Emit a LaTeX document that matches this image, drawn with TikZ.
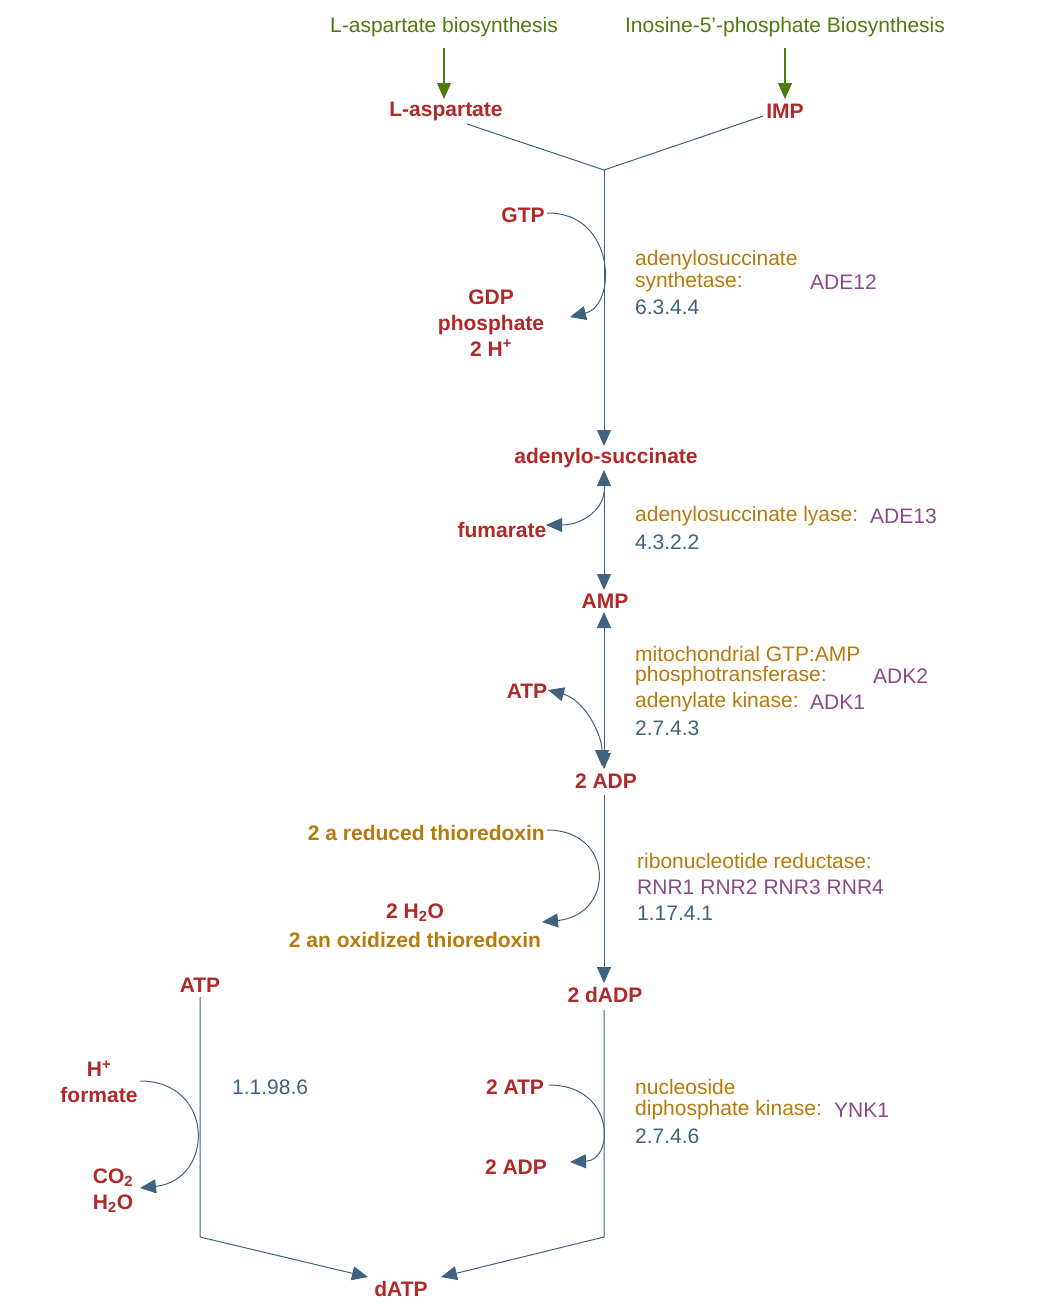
\documentclass[tikz,border=0pt]{standalone}
\usepackage{fontspec}
\setmainfont{Liberation Sans}
\usetikzlibrary{arrows.meta}
\definecolor{met}{HTML}{B02828}
\definecolor{grn}{HTML}{4F7A0E}
\definecolor{enz}{HTML}{B57A0A}
\definecolor{gen}{HTML}{8A4A8A}
\definecolor{ln}{HTML}{40627F}
\begin{document}
\begin{tikzpicture}[x=1pt,y=-1pt,
 m/.style={text=met,font=\fontsize{21}{26}\selectfont\bfseries,inner sep=1pt,align=center},
 mo/.style={m,text=enz},
 pw/.style={text=grn,font=\fontsize{21}{26}\selectfont,inner sep=1pt},
 ez/.style={text=enz,font=\fontsize{21}{26}\selectfont,anchor=west,inner sep=0pt},
 gn/.style={text=gen,font=\fontsize{21}{26}\selectfont,anchor=west,inner sep=0pt},
 ec/.style={text=ln,font=\fontsize{21}{26}\selectfont,anchor=west,inner sep=0pt},
 l/.style={draw=ln,line width=1pt},
 tip/.style={-{Triangle[length=16pt,width=14pt]}},
 btip/.style={{Triangle[length=16pt,width=14pt]}-{Triangle[length=16pt,width=14pt]}},
 g/.style={draw=grn,line width=1.1pt,-{Triangle[length=16pt,width=14pt]}}]
\useasboundingbox (0,0) rectangle (1038,1310);
% pathways
\node[pw] (pa) at (444,27) {L-aspartate biosynthesis};
\node[pw] (pi) at (785,27) {Inosine-5'-phosphate Biosynthesis};
\node[m] (asp) at (446,111) {L-aspartate};
\node[m] (imp) at (785,111) {IMP};
\draw[g] (444,48) -- (444,99);
\draw[g] (785,48) -- (785,99);
% step 1
\coordinate (j1) at (604,170);
\coordinate (a1) at (467,124);
\coordinate (b1) at (763,116);
\node[m] (ads) at (606,458) {adenylo-succinate};
\draw[l] (a1) -- (j1) -- (b1);
\draw[l,tip] (j1) -- (604,446);
\node[m] (gtp) at (523,215) {GTP};
\node[m] (gdp) at (491,323) {GDP\\phosphate\\2 H\textsuperscript{+}};
\draw[l,tip] (547,213) .. controls (615,212) and (618,305) .. (570,317);
\node[ez] at (635,260) {adenylosuccinate};
\node[ez] at (635,282) {synthetase:};
\node[gn] at (810,282) {ADE12};
\node[ec] at (635,307) {6.3.4.4};
% step 2
\node[m] (amp) at (605,601) {AMP};
\draw[l,btip] (604,470) -- (604,590);
\node[m] (fum) at (502,530) {fumarate};
\draw[l,tip] (604,492) .. controls (602,512) and (580,525) .. (546,525);
\node[ez] at (635,516) {adenylosuccinate lyase:};
\node[gn] at (870,516) {ADE13};
\node[ec] at (635,542) {4.3.2.2};
% step 3
\node[m] (adp) at (606,781) {2 ADP};
\draw[l,btip] (604,612) -- (604,769);
\node[m] (atp1) at (527,691) {ATP};
\draw[l,btip] (548,690) .. controls (585,700) and (602,735) .. (602,766);
\node[ez] at (635,654) {mitochondrial GTP:AMP};
\node[ez] at (635,676) {phosphotransferase:};
\node[gn] at (873,676) {ADK2};
\node[ez] at (635,702) {adenylate kinase:};
\node[gn] at (810,702) {ADK1};
\node[ec] at (635,728) {2.7.4.3};
% step 4
\node[m] (dadp) at (605,995) {2 dADP};
\draw[l,tip] (604,795) -- (604,983);
\node[mo,anchor=east] (rt) at (546,833) {2 a reduced thioredoxin};
\node[m] (h2o) at (415,913) {2 H\textsubscript{2}O};
\node[mo] (ot) at (415,940) {2 an oxidized thioredoxin};
\draw[l,tip] (547,830) .. controls (615,830) and (615,915) .. (542,922);
\node[ez] at (637,861) {ribonucleotide reductase:};
\node[gn] at (637,887) {RNR1\hspace{6pt}RNR2\hspace{6pt}RNR3\hspace{6pt}RNR4};
\node[ec] at (637,913) {1.17.4.1};
% step 5
\node[m] (datp) at (401,1289) {dATP};
\coordinate (c5) at (604,1237);
\draw[l,tip] (604,1010) -- (c5) -- (441,1277);
\node[m] (atp2) at (515,1087) {2 ATP};
\node[m] (adp2) at (516,1167) {2 ADP};
\draw[l,tip] (549,1085) .. controls (615,1085) and (615,1160) .. (570,1162);
\node[ez] at (635,1087) {nucleoside};
\node[ez] at (635,1110) {diphosphate kinase:};
\node[gn] at (834,1110) {YNK1};
\node[ec] at (635,1136) {2.7.4.6};
% step 6
\node[m] (atp3) at (200,985) {ATP};
\coordinate (c6) at (200,1237);
\draw[l,tip] (200,997) -- (c6) -- (368,1277);
\node[m] (hf) at (99,1082) {H\textsuperscript{+}\\formate};
\node[m] (co2) at (113,1191) {CO\textsubscript{2}\\H\textsubscript{2}O};
\draw[l,tip] (140,1081) .. controls (215,1081) and (215,1180) .. (140,1188);
\node[ec] at (232,1087) {1.1.98.6};
\end{tikzpicture}
\end{document}
